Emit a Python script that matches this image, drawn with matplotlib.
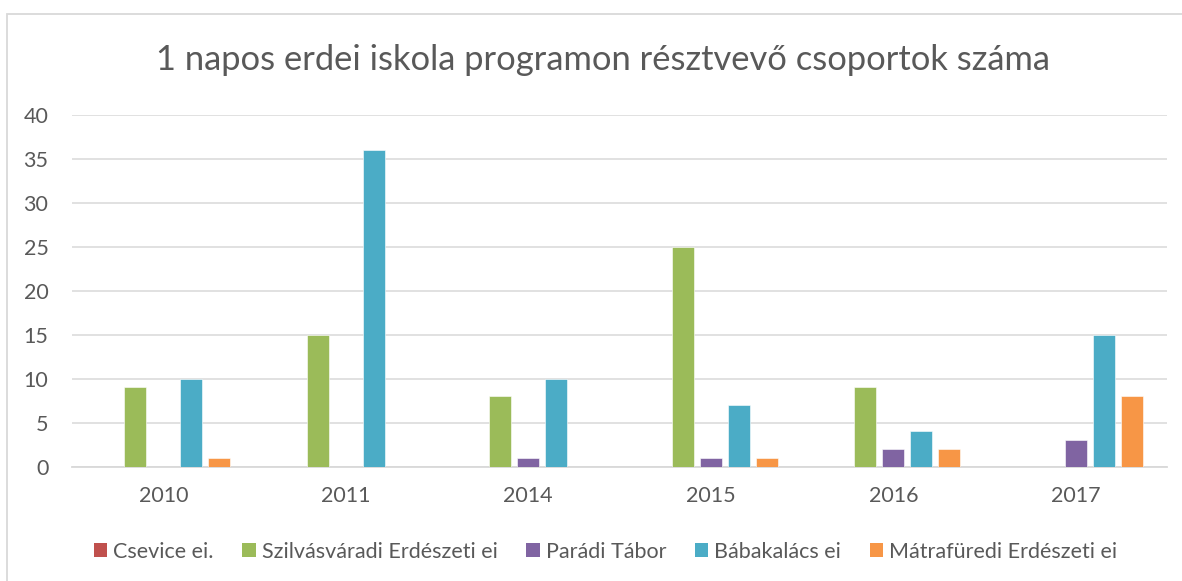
import matplotlib
matplotlib.use("Agg")
import matplotlib.pyplot as plt
from matplotlib.patches import Rectangle, Patch
import numpy as np

plt.rcParams['font.family'] = ['Lato', 'DejaVu Sans']

years = ["2010", "2011", "2014", "2015", "2016", "2017"]
series_names = ["Csevice ei.", "Szilvásváradi Erdészeti ei", "Parádi Tábor",
                "Bábakalács ei", "Mátrafüredi Erdészeti ei"]
csevice = [0, 0, 0, 0, 0, 0]
szilvasvaradi = [9, 15, 8, 25, 9, 0]
paradi = [0, 0, 1, 1, 2, 3]
babakalacs = [10, 36, 10, 7, 4, 15]
matrafuredi = [1, 0, 0, 1, 2, 8]
colors = ["#C0504D", "#9BBB59", "#8064A2", "#4BACC6", "#F79646"]
title = "1 napos erdei iskola programon résztvevő csoportok száma"

W, H = 1182, 581
fig = plt.figure(figsize=(W / 100, H / 100), dpi=100)
ax = fig.add_axes([72 / W, 1 - 466.7 / H, (1167 - 72) / W, (466.7 - 114.7) / H])

x = np.arange(len(years))
data = [csevice, szilvasvaradi, paradi, babakalacs, matrafuredi]
step = 28 / 182.5
width = 22 / 182.5
for i, (vals, c) in enumerate(zip(data, colors)):
    ax.bar(x + (i - 2) * step, vals, width=width, color=c,
           edgecolor="white", linewidth=0.4, zorder=3)

ax.set_xlim(-0.5, len(years) - 0.5)
ax.set_ylim(0, 40)
ax.set_yticks(range(0, 41, 5))
ax.set_xticks(x)
ax.set_xticklabels(years)
ax.grid(axis="y", color="#D9D9D9", linewidth=1.1, zorder=0)
for s in ["top", "right", "left"]:
    ax.spines[s].set_visible(False)
ax.spines["bottom"].set_color("#D9D9D9")
ax.spines["bottom"].set_linewidth(1.3)
ax.tick_params(axis="both", length=0, labelsize=15.5, labelcolor="#595959")
ax.tick_params(axis="y", pad=17)
ax.tick_params(axis="x", pad=14)

fig.text(602.5 / W, 1 - 70 / H, title, ha="center", va="baseline",
         fontsize=24.8, color="#595959")

handles = [Patch(facecolor=c, edgecolor="none") for c in colors]
fig.legend(handles, series_names, loc="center", ncol=5,
           bbox_to_anchor=(605.5 / W, 1 - 552 / H), frameon=False,
           fontsize=15.5, labelcolor="#595959", handlelength=0.62,
           handleheight=0.62, handletextpad=0.28, columnspacing=1.33)

fig.patches.append(Rectangle((7 / W, -0.1), 1.2, 1 - 14 / H + 0.1,
                             transform=fig.transFigure, fill=False,
                             edgecolor="#D9D9D9", linewidth=1.3))

fig.savefig("out.png", dpi=100)
